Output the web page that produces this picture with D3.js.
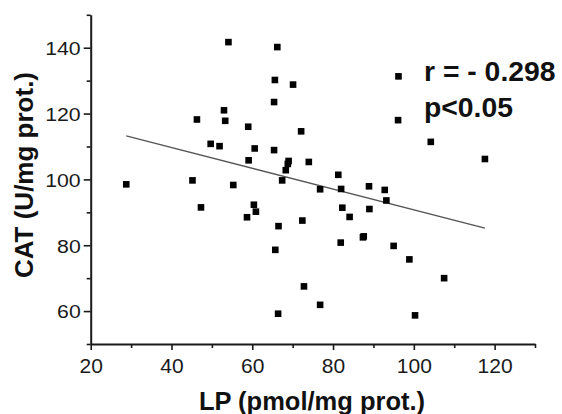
<!DOCTYPE html>
<html><head><meta charset="utf-8">
<script src="https://cdn.jsdelivr.net/npm/d3@7"></script>
<style>body{margin:0;background:#fff}svg{display:block}</style>
</head><body><svg id="c" width="562" height="414"></svg>
<script>
const lpValues = [54.1,66.2,65.6,70.1,96.2,65.4,46.3,53.0,53.3,96.1,59.0,72.1,104.2,49.7,51.9,60.6,65.4,117.6,59.1,69.0,68.8,74.0,68.3,81.3,28.8,45.2,55.3,67.4,76.8,82.0,88.9,92.8,93.2,47.3,60.4,60.9,58.7,66.5,72.4,82.3,84.1,89.0,65.7,81.9,87.4,87.6,95.0,98.9,107.5,72.8,76.8,66.4,100.3];
const catValues = [141.7,140.2,130.2,128.8,131.3,123.5,118.2,121.0,117.8,118.0,116.0,114.6,111.4,110.8,110.1,109.4,108.9,106.2,105.8,105.6,104.7,105.3,102.8,101.4,98.5,99.7,98.3,99.7,97.0,97.1,97.9,96.8,93.6,91.5,92.3,90.2,88.5,85.8,87.5,91.4,88.6,91.0,78.6,80.8,82.4,82.7,79.8,75.7,70.0,67.5,61.9,59.2,58.7];
const xMajorTicks = [20,40,60,80,100,120];
const xMinorTicks = [30,50,70,90,110,130];
const yMajorTicks = [60,80,100,120,140];
const yMinorTicks = [50,70,90,110,130,150];
const fitLP = [28.8, 117.6];
const fitCAT = [113.2, 85.2];
const statLines = ["r = - 0.298", "p<0.05"];
const xTitle = "LP (pmol/mg prot.)";
const yTitle = "CAT (U/mg prot.)";

const svg = d3.select("#c");
const FONT = "'Liberation Sans', Arial, Helvetica, sans-serif";
const x = d3.scaleLinear().domain([20,130]).range([90.7,535]);
const y = d3.scaleLinear().domain([50,150]).range([344,14.8]);

const axisColor = "#1a1a1a";

// x axis
const gx = svg.append("g").attr("transform","translate(0,344)");
gx.call(d3.axisBottom(x).tickValues(xMajorTicks).tickSize(6).tickSizeOuter(0).tickFormat(d3.format("d")));
const gxm = svg.append("g").attr("transform","translate(0,344)");
gxm.call(d3.axisBottom(x).tickValues(xMinorTicks).tickSize(4).tickSizeOuter(0).tickFormat(""));
gxm.select(".domain").remove();

// y axis
const gy = svg.append("g").attr("transform","translate(90.7,0)");
gy.call(d3.axisLeft(y).tickValues(yMajorTicks).tickSize(7).tickSizeOuter(0).tickFormat(d3.format("d")));
const gym = svg.append("g").attr("transform","translate(90.7,0)");
gym.call(d3.axisLeft(y).tickValues(yMinorTicks).tickSize(4).tickSizeOuter(0).tickFormat(""));
gym.select(".domain").remove();

svg.selectAll(".domain").attr("stroke",axisColor).attr("stroke-width",2);
svg.selectAll(".tick line").attr("stroke",axisColor).attr("stroke-width",1.6);

gx.selectAll(".tick text").attr("font-family",FONT).attr("font-size",21).attr("fill","#1a1a1a")
  .attr("y",29).attr("dy",0);
gy.selectAll(".tick text").attr("font-family",FONT).attr("font-size",19).attr("fill","#1a1a1a")
  .attr("x",-10).attr("dy","0.36em")
  .attr("transform", d => `translate(-10,0) scale(1.12,1) translate(10,0)`);

// regression line
svg.append("path")
  .datum(fitLP.map((v,i)=>[v,fitCAT[i]]))
  .attr("d", d3.line().x(d=>x(d[0])).y(d=>y(d[1])))
  .attr("stroke","#555").attr("stroke-width",1.3).attr("fill","none");

// points
const s = 6.6;
svg.append("g").selectAll("rect")
  .data(lpValues.map((v,i)=>({lp:v,cat:catValues[i]})))
  .join("rect")
  .attr("x", d=>x(d.lp)-s/2).attr("y", d=>y(d.cat)-s/2)
  .attr("width",s).attr("height",s).attr("fill","#000");

// stats
svg.append("g").selectAll("text").data(statLines).join("text")
  .attr("x",424).attr("y",(d,i)=>81+i*36)
  .attr("font-family",FONT).attr("font-weight","bold").attr("font-size",27)
  .attr("transform","translate(424,0) scale(1.05,1) translate(-424,0)")
  .attr("fill","#111").text(d=>d);

// titles
svg.append("text").attr("x",312).attr("y",410).attr("text-anchor","middle")
  .attr("font-family",FONT).attr("font-weight","bold").attr("font-size",25.5).attr("fill","#111")
  .text(xTitle);
svg.append("text").attr("transform","translate(33,175) rotate(-90)").attr("text-anchor","middle")
  .attr("font-family",FONT).attr("font-weight","bold").attr("font-size",26).attr("fill","#111")
  .text(yTitle);
</script></body></html>
